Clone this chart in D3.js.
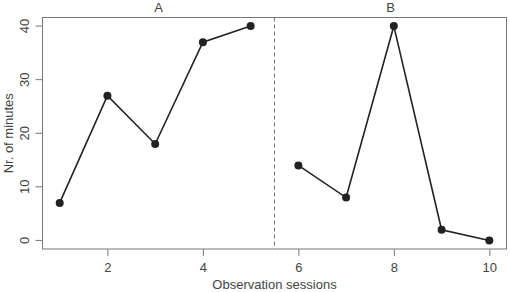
<!DOCTYPE html>
<html>
<head>
<meta charset="utf-8">
<script src="https://cdn.jsdelivr.net/npm/d3@7"></script>
<style>
  body { margin: 0; background: #fff; }
  svg text { font-family: "Liberation Sans", Arial, sans-serif; fill: #444; }
</style>
</head>
<body>
<div id="chart"></div>
<script>
// sessions and minutes, two phases
var sessionsA = [1, 2, 3, 4, 5];
var minutesA = [7, 27, 18, 37, 40];
var sessionsB = [6, 7, 8, 9, 10];
var minutesB = [14, 8, 40, 2, 0];
var xTicks = [2, 4, 6, 8, 10];
var yTicks = [0, 10, 20, 30, 40];
var phaseLabels = ["A", "B"];
var phaseSplit = 5.5;

var width = 510, height = 292;
// plot box edges (note: "top" is reserved on window, so use pLeft etc.)
var pLeft = 42.5, pRight = 506.5, pTop = 17.5, pBottom = 249;

var svg = d3.select("#chart").append("svg")
    .attr("width", width)
    .attr("height", height);

var x = d3.scaleLinear().domain([0.64, 10.36]).range([pLeft, pRight]);
var y = d3.scaleLinear().domain([-1.6, 41.6]).range([pBottom, pTop]);

// box
svg.append("rect")
    .attr("x", pLeft).attr("y", pTop)
    .attr("width", pRight - pLeft).attr("height", pBottom - pTop)
    .attr("fill", "none").attr("stroke", "#777").attr("stroke-width", 1);

// x axis
var xAxis = svg.append("g")
    .attr("transform", "translate(0," + pBottom + ")")
    .call(d3.axisBottom(x).tickValues(xTicks).tickSize(7).tickPadding(7));
xAxis.select(".domain").remove();
xAxis.selectAll("line").attr("stroke", "#777");
xAxis.selectAll("text").style("font-size", "13px").attr("fill", "#444");

// y axis, rotated labels like base R
var yAxis = svg.append("g")
    .attr("transform", "translate(" + pLeft + ",0)")
    .call(d3.axisLeft(y).tickValues(yTicks).tickSize(7).tickPadding(0));
yAxis.select(".domain").remove();
yAxis.selectAll("line").attr("stroke", "#777");
yAxis.selectAll(".tick").attr("transform", null);
yAxis.selectAll(".tick line")
    .attr("y1", function(d) { return y(d); })
    .attr("y2", function(d) { return y(d); });
yAxis.selectAll("text")
    .style("font-size", "13px")
    .attr("fill", "#444")
    .attr("x", 0).attr("y", 0).attr("dy", 0)
    .attr("text-anchor", "middle")
    .attr("transform", function(d) { return "translate(-14," + y(d) + ") rotate(-90)"; });

// axis titles
svg.append("text")
    .attr("x", (pLeft + pRight) / 2).attr("y", 289)
    .attr("text-anchor", "middle")
    .style("font-size", "13px")
    .text("Observation sessions");

svg.append("text")
    .attr("transform", "translate(12.5," + ((pTop + pBottom) / 2) + ") rotate(-90)")
    .attr("text-anchor", "middle")
    .style("font-size", "13px")
    .text("Nr. of minutes");

// phase divider
svg.append("line")
    .attr("x1", x(phaseSplit)).attr("x2", x(phaseSplit))
    .attr("y1", pTop).attr("y2", pBottom)
    .attr("stroke", "#777").attr("stroke-width", 1)
    .attr("stroke-dasharray", "4,3");

// phase labels
var dom = x.domain();
svg.append("text")
    .attr("x", x((dom[0] + phaseSplit) / 2)).attr("y", 12)
    .attr("text-anchor", "middle").style("font-size", "13px")
    .text(phaseLabels[0]);
svg.append("text")
    .attr("x", x((phaseSplit + dom[1]) / 2)).attr("y", 12)
    .attr("text-anchor", "middle").style("font-size", "13px")
    .text(phaseLabels[1]);

var line = d3.line()
    .x(function(d) { return x(d[0]); })
    .y(function(d) { return y(d[1]); });

[[sessionsA, minutesA], [sessionsB, minutesB]].forEach(function(s) {
  var pts = d3.zip(s[0], s[1]);
  svg.append("path")
      .datum(pts)
      .attr("d", line)
      .attr("fill", "none")
      .attr("stroke", "#222")
      .attr("stroke-width", 1.6);
  svg.selectAll(null)
      .data(pts)
      .enter()
      .append("circle")
      .attr("cx", function(d) { return x(d[0]); })
      .attr("cy", function(d) { return y(d[1]); })
      .attr("r", 4)
      .attr("fill", "#222");
});
</script>
</body>
</html>
